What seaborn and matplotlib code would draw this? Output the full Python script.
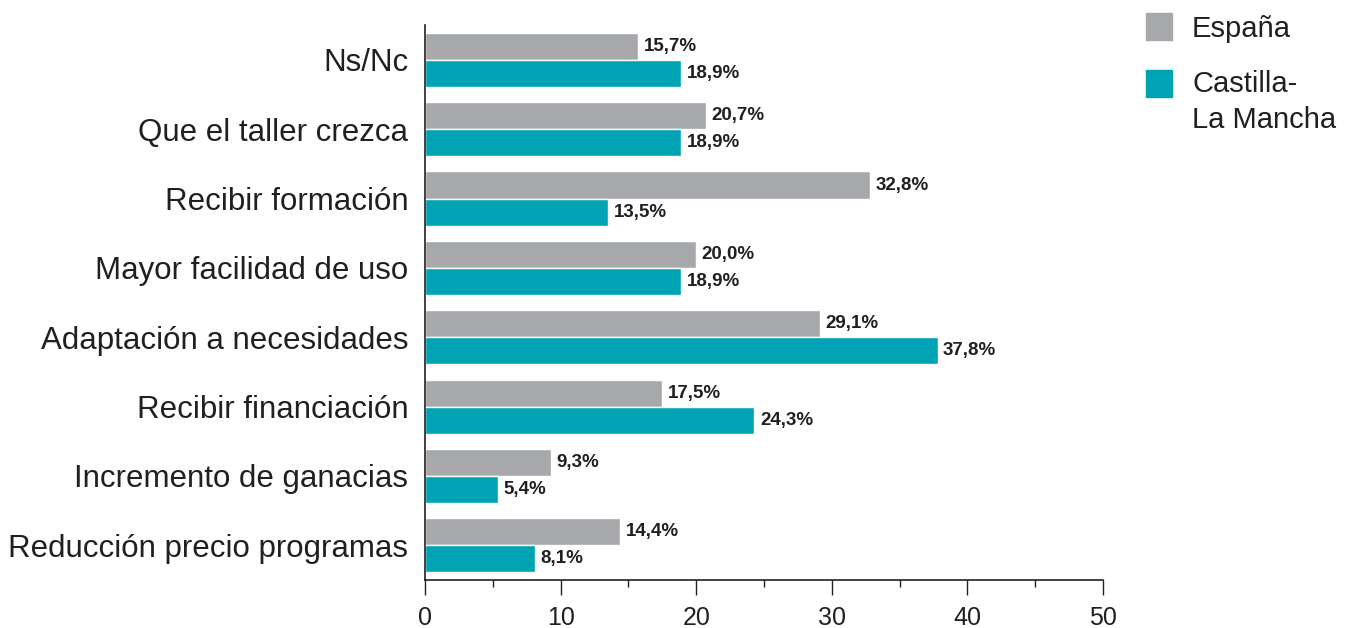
import pandas as pd
import matplotlib.pyplot as plt
import seaborn as sns
from matplotlib.ticker import MultipleLocator

categorias = ['Ns/Nc', 'Que el taller crezca', 'Recibir formación', 'Mayor facilidad de uso',
              'Adaptación a necesidades', 'Recibir financiación', 'Incremento de ganacias',
              'Reducción precio programas']
espana = [15.7, 20.7, 32.8, 20.0, 29.1, 17.5, 9.3, 14.4]
clm = [18.9, 18.9, 13.5, 18.9, 37.8, 24.3, 5.4, 8.1]
series = ['España', 'Castilla-La Mancha']

df = pd.DataFrame({
    'categoria': categorias * 2,
    'valor': espana + clm,
    'zona': [series[0]] * len(categorias) + [series[1]] * len(categorias),
})

sns.set_style('white')
plt.rcParams['font.family'] = ['Liberation Sans', 'DejaVu Sans']
W, H = 1351, 628
ink = '#231f20'

fig = plt.figure(figsize=(W / 100, H / 100), dpi=100)
ax = fig.add_axes([0.3146, 0.0764, 0.5018, 0.8836])
palette = {series[0]: '#a7a8ac', series[1]: '#00a3b4'}
sns.barplot(data=df, y='categoria', x='valor', hue='zona', palette=palette,
            orient='h', width=0.78, saturation=1, ax=ax, legend=False)

# etiquetas de valor con coma decimal
for cont in ax.containers:
    labels = [f'{v:.1f}%'.replace('.', ',') for v in cont.datavalues]
    ax.bar_label(cont, labels=labels, padding=4, fontsize=13.5, fontweight='bold', color=ink)

ax.set_xlim(0, 50)
ax.set_ylim(7.5, -0.5)
ax.xaxis.set_major_locator(MultipleLocator(10))
ax.xaxis.set_minor_locator(MultipleLocator(5))
ax.tick_params(axis='x', which='major', direction='out', length=10.8, width=1, color=ink,
               labelsize=18, pad=8, bottom=True)
ax.tick_params(axis='x', which='minor', direction='out', length=5, width=1, color=ink, bottom=True)
ax.tick_params(axis='y', length=0, labelsize=22.5, pad=12)
for lab in ax.get_xticklabels() + ax.get_yticklabels():
    lab.set_color(ink)
ax.set_xlabel('')
ax.set_ylabel('')
for s in ['top', 'right']:
    ax.spines[s].set_visible(False)
for s in ['left', 'bottom']:
    ax.spines[s].set_color(ink)
    ax.spines[s].set_linewidth(1.2)

# leyenda: cuadrado alineado con la primera línea del texto
leg_top = [13, 70]
for s, top in zip(series, leg_top):
    fig.add_artist(plt.Rectangle((1146 / W, 1 - (top + 27) / H), 26 / W, 27 / H,
                                 color=palette[s], transform=fig.transFigure))
fig.text(1192 / W, 1 - 37 / H, 'España', fontsize=21, color=ink, va='baseline')
fig.text(1192 / W, 1 - 92 / H, 'Castilla-', fontsize=21, color=ink, va='baseline')
fig.text(1192 / W, 1 - 128 / H, 'La Mancha', fontsize=21, color=ink, va='baseline')

fig.savefig('out.png', dpi=100)
